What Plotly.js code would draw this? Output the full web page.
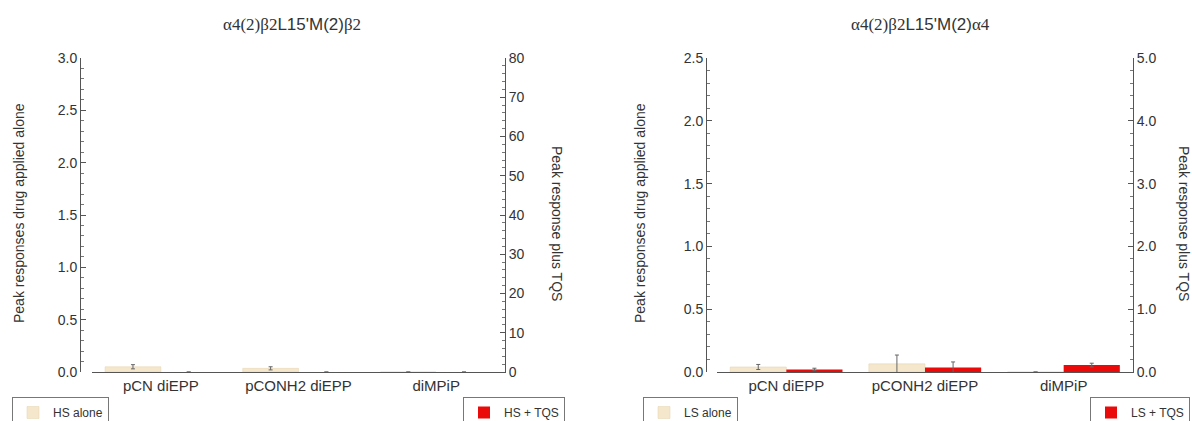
<!DOCTYPE html>
<html>
<head>
<meta charset="utf-8">
<script src="https://cdn.plot.ly/plotly-3.0.1.min.js"></script>
<style>html,body{margin:0;padding:0;background:#fff;}#chart{width:1192px;height:421px;}</style>
</head>
<body>
<div id="chart"></div>
<script>
// ---- data ----
const categories = ["pCN diEPP", "pCONH2 diEPP", "diMPiP"];

// left panel: α4(2)β2L15'M(2)β2
const hsAlone = [0.05, 0.035, 0.0];
const hsAloneErr = [0.02, 0.015, 0.0];
const hsTqs = [0.0, 0.0, 0.0];
const hsTqsErr = [0.0, 0.0, 0.0];

// right panel: α4(2)β2L15'M(2)α4
const lsAlone = [0.04, 0.065, 0.0];
const lsAloneErr = [0.02, 0.07, 0.0];
const lsTqs = [0.04, 0.07, 0.11];
const lsTqsErr = [0.02, 0.09, 0.03];

const titleLeft = '<span style="font-family:Liberation Serif">α4(2)β2</span>L15\'M(2)<span style="font-family:Liberation Serif">β2</span>';
const titleRight = '<span style="font-family:Liberation Serif">α4(2)β2</span>L15\'M(2)<span style="font-family:Liberation Serif">α4</span>';
const yTitleAlone = "Peak responses drug applied alone";
const yTitleTqs = "Peak response plus TQS";

// ---- style ----
const BEIGE = "rgb(245,231,204)";
const RED = "rgb(234,10,10)";
const W = 1192, H = 421;
const px = v => v / W;
const py = v => 1 - v / H;
const FONT = "Liberation Sans, Arial, sans-serif";
const TXT = "#333";
const BW = 0.405;

function errY(arr) {
  return {type: "data", array: arr, visible: true, color: "#666", thickness: 1, width: 2};
}

const traces = [
  {type: "bar", name: "HS alone", x: categories, y: hsAlone, error_y: errY(hsAloneErr),
   xaxis: "x", yaxis: "y", width: BW, offset: -BW, marker: {color: BEIGE, line: {color: "rgb(228,210,175)", width: 0.5}}, legend: "legend"},
  {type: "bar", name: "HS + TQS", x: categories, y: hsTqs, error_y: errY(hsTqsErr),
   xaxis: "x", yaxis: "y2", width: BW, offset: 0, marker: {color: RED}, legend: "legend2"},
  {type: "bar", name: "LS alone", x: categories, y: lsAlone, error_y: errY(lsAloneErr),
   xaxis: "x2", yaxis: "y3", width: BW, offset: -BW, marker: {color: BEIGE, line: {color: "rgb(228,210,175)", width: 0.5}}, legend: "legend3"},
  {type: "bar", name: "LS + TQS", x: categories, y: lsTqs, error_y: errY(lsTqsErr),
   xaxis: "x2", yaxis: "y4", width: BW, offset: 0, marker: {color: RED}, legend: "legend4"}
];

const yDomain = [py(372), py(58)];
const tickFont = {family: FONT, size: 14, color: TXT};

function yAx(extra) {
  return Object.assign({
    domain: yDomain, showgrid: false, zeroline: false, showline: true,
    linecolor: "#555", linewidth: 1, ticks: "inside", ticklen: 5, tickcolor: "#555",
    tickfont: tickFont, fixedrange: true, automargin: false
  }, extra);
}

function xAx(domain, anchor) {
  return {
    domain: domain, anchor: anchor, showgrid: false, zeroline: false, showline: true,
    linecolor: "#555", linewidth: 1, ticks: "", tickfont: {family: FONT, size: 15, color: TXT},
    fixedrange: true, automargin: false
  };
}

function legendAt(x) {
  return {
    x: px(x), y: py(397), xanchor: "left", yanchor: "top",
    bgcolor: "#fff", bordercolor: "#777", borderwidth: 1,
    font: {family: FONT, size: 12, color: TXT}
  };
}

const minorY = d => ({ticks: "inside", ticklen: 3, tickcolor: "#777", dtick: d});

function ann(text, x, y, size, angle) {
  return {text: text, x: px(x), y: py(y), xref: "paper", yref: "paper", showarrow: false,
          xanchor: "center", yanchor: "middle", textangle: angle,
          font: {family: FONT, size: size, color: TXT}};
}

const layout = {
  width: W, height: H,
  margin: {l: 0, r: 0, t: 0, b: 0, autoexpand: false},
  paper_bgcolor: "#fff", plot_bgcolor: "#fff",
  font: {family: FONT, color: TXT},
  barmode: "overlay",
  xaxis: xAx([px(92), px(505)], "y"),
  xaxis2: xAx([px(717), px(1133)], "y3"),
  yaxis: yAx({anchor: "free", position: px(80), side: "left", range: [0, 3.0], dtick: 0.5, tickformat: ".1f", minor: minorY(0.1)}),
  yaxis2: yAx({anchor: "x", overlaying: "y", side: "right", range: [0, 80], dtick: 10, tickformat: "d", minor: minorY(2)}),
  yaxis3: yAx({anchor: "free", position: px(706), side: "left", range: [0, 2.5], dtick: 0.5, tickformat: ".1f", minor: minorY(0.1)}),
  yaxis4: yAx({anchor: "x2", overlaying: "y3", side: "right", range: [0, 5.0], dtick: 1, tickformat: ".1f", minor: minorY(0.2)}),
  showlegend: true,
  legend: legendAt(12),
  legend2: legendAt(463),
  legend3: legendAt(643),
  legend4: legendAt(1090),
  annotations: [
    ann(titleLeft, 292, 25, 17, 0),
    ann(titleRight, 920, 25, 17, 0),
    ann(yTitleAlone, 19, 213, 14, -90),
    ann(yTitleTqs, 557, 223, 14, 90),
    ann(yTitleAlone, 640, 213, 14, -90),
    ann(yTitleTqs, 1184, 223, 14, 90)
  ]
};

Plotly.newPlot("chart", traces, layout, {displayModeBar: false, staticPlot: true});
</script>
</body>
</html>
